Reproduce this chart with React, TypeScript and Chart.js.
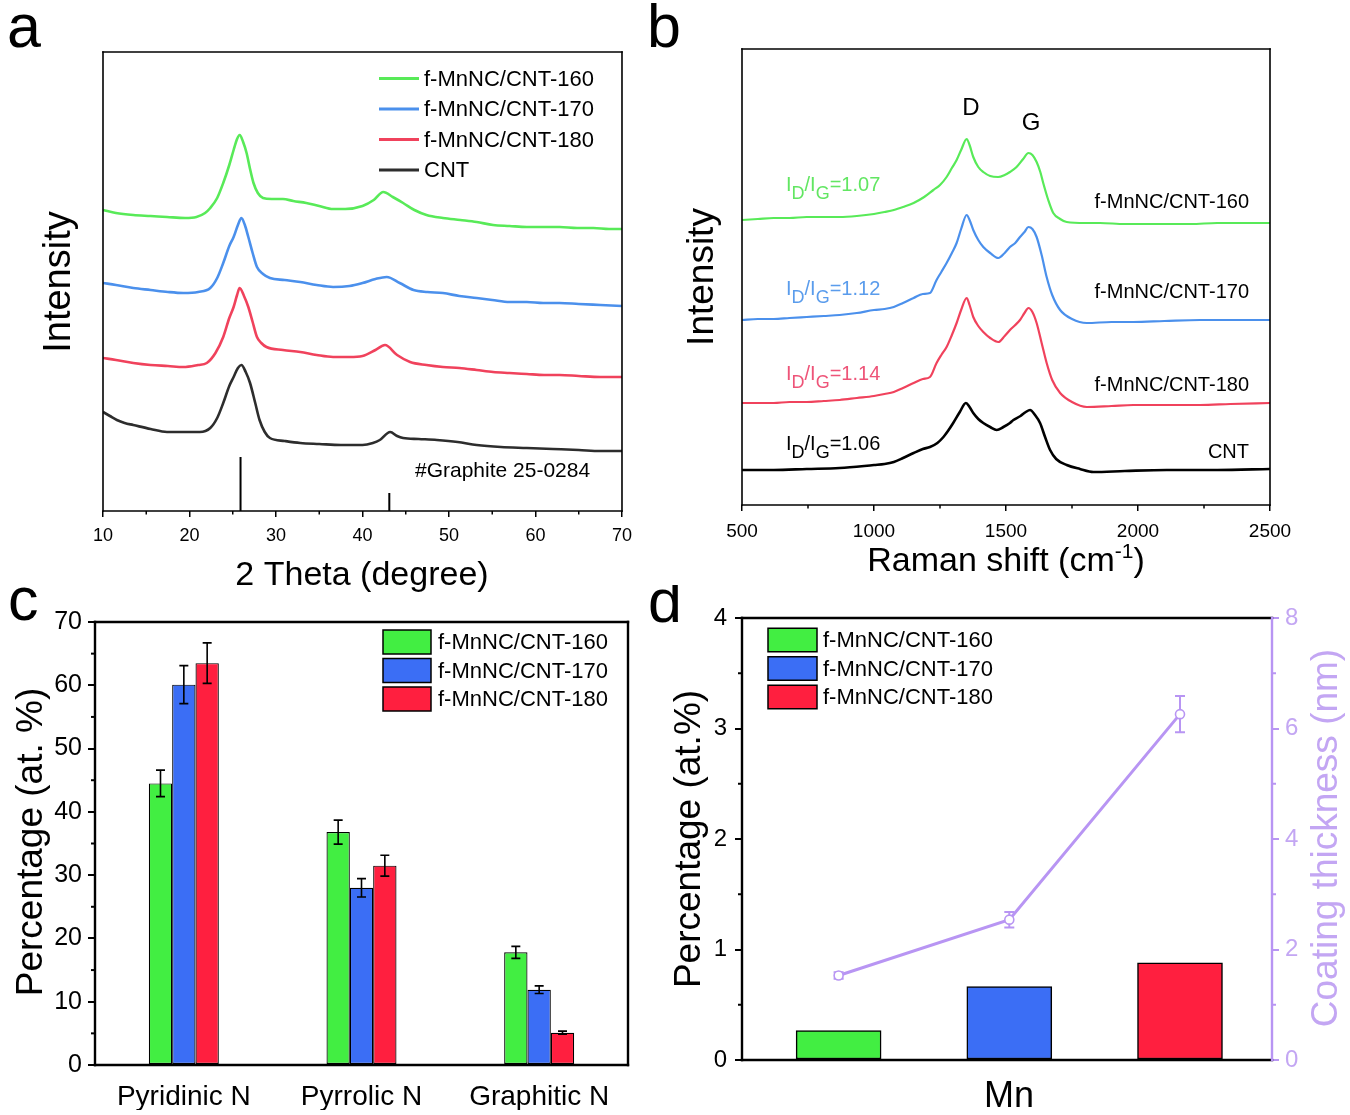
import React, { useEffect, useRef } from 'react';
import { Chart, registerables } from 'chart.js';

Chart.register(...registerables);

const FONT = '"Liberation Sans", Arial, Helvetica, sans-serif';

// ---------------- Panel a : XRD ----------------
const xrdLabels = ['f-MnNC/CNT-160', 'f-MnNC/CNT-170', 'f-MnNC/CNT-180', 'CNT'];
const xrd160Theta = [10, 11.5, 13.5, 15.5, 17.4, 19.5, 20.8, 21.8, 22.4, 23.2, 23.9, 24.6, 25.1, 25.5, 25.8, 26.2, 26.6, 27.0, 27.4, 27.9, 28.5, 29.5, 30.8, 32.0, 33.5, 35.0, 36.6, 38.0, 40.0, 41.3, 42.4, 43.5, 44.7, 46.0, 47.4, 49.3, 51.3, 53.2, 55.1, 57.0, 59.0, 61.0, 62.8, 64.8, 66.7, 68.5, 70.0];
const xrd160Int = [298, 295, 293, 292, 291, 290, 291, 295, 300, 310, 325, 343, 358, 369, 373, 366, 355, 339, 325, 315, 310, 309, 309, 307, 305, 302, 299, 299, 302, 308, 316, 311, 305, 298, 293, 290, 288, 286, 283, 282, 281, 281, 281, 280, 280, 279, 279];
const xrd170Theta = [10, 11.5, 13.5, 15.5, 17.5, 19.3, 21.0, 22.4, 23.2, 23.9, 24.6, 25.1, 25.6, 26.0, 26.4, 26.8, 27.3, 27.8, 28.5, 29.3, 31.0, 32.8, 34.7, 36.6, 38.5, 40.0, 41.5, 42.8, 44.3, 45.9, 47.5, 49.3, 51.2, 53.2, 55.0, 57.0, 59.0, 60.9, 62.8, 65.0, 67.5, 70.0];
const xrd170Int = [225, 223, 220, 218, 216, 215, 216, 220, 230, 245, 262, 271, 283, 290, 283, 271, 255, 241, 234, 230, 228, 226, 223, 221, 222, 225, 229, 231, 225, 218, 216, 215, 212, 210, 208, 206, 206, 205, 205, 204, 203, 202];
const xrd180Theta = [10, 11.5, 13.5, 15.5, 17.5, 19.3, 21.0, 22.0, 23.0, 23.9, 24.6, 25.1, 25.5, 25.8, 26.3, 26.8, 27.3, 27.8, 28.3, 28.9, 30.8, 32.8, 34.7, 36.6, 38.5, 40.0, 41.5, 42.6, 44.0, 45.5, 47.4, 49.3, 51.2, 53.2, 55.1, 57.0, 59.0, 61.0, 62.8, 65.0, 67.5, 70.0];
const xrd180Int = [150, 148, 145, 143, 142, 141, 143, 145, 155, 171, 190, 201, 213, 220, 212, 201, 186, 171, 165, 161, 158, 156, 153, 151, 151, 152, 158, 163, 153, 146, 143, 141, 140, 138, 136, 135, 134, 133, 133, 132, 131, 131];
const xrdCntTheta = [10, 10.8, 11.6, 12.5, 13.5, 15.5, 17.4, 19.3, 21.2, 22.4, 23.2, 23.9, 24.6, 25.1, 25.6, 26.0, 26.5, 27.0, 27.6, 28.1, 28.7, 29.3, 31.0, 32.8, 35.0, 37.5, 40.0, 41.2, 42.0, 43.2, 44.0, 44.7, 46.5, 48.6, 51.0, 53.2, 56.0, 59.0, 62.0, 65.0, 67.5, 70.0];
const xrdCntInt = [96, 92, 88, 85, 83, 79, 76, 76, 76, 80, 90, 105, 122, 131, 140, 143, 136, 125, 105, 88, 76, 70, 67, 65, 64, 63, 63, 65, 68, 76, 72, 70, 69, 68, 66, 63, 61, 60, 59, 58, 57, 57];
const graphiteRefTheta = [25.9, 43.1];
const graphiteRefInt = [51, 15];
const XRD_Y_MIN = -3;
const XRD_Y_MAX = 456;
const xrdTickValues = [10, 20, 30, 40, 50, 60, 70];
const xrdTickLabels = ['10', '20', '30', '40', '50', '60', '70'];
const xrdMinorTicks = [15, 25, 35, 45, 55, 65];

// ---------------- Panel b : Raman ----------------
const ramanLabels = ['f-MnNC/CNT-160', 'f-MnNC/CNT-170', 'f-MnNC/CNT-180', 'CNT'];
const ramanRatios = ['1.07', '1.12', '1.14', '1.06'];
const raman160Shift = [500, 560, 620, 680, 745, 810, 870, 935, 1000, 1040, 1075, 1110, 1150, 1190, 1225, 1250, 1275, 1295, 1313, 1330, 1351, 1362, 1376, 1395, 1414, 1440, 1470, 1495, 1515, 1540, 1565, 1585, 1600, 1616, 1630, 1641, 1660, 1679, 1705, 1730, 1800, 1856, 1950, 2050, 2109, 2200, 2300, 2400, 2500];
const raman160Int = [285, 286, 287, 287, 288, 288, 288, 289, 291, 293, 295, 298, 302, 308, 315, 320, 328, 337, 345, 355, 366, 360, 348, 338, 333, 329, 328, 330, 333, 338, 346, 352, 350, 343, 333, 322, 305, 292, 286, 283, 282, 282, 281, 281, 281, 281, 282, 282, 282];
const raman17x180Shift = [500, 560, 620, 680, 745, 810, 870, 935, 1000, 1040, 1075, 1110, 1150, 1185, 1212, 1237, 1255, 1275, 1295, 1313, 1330, 1351, 1362, 1376, 1395, 1414, 1440, 1471, 1495, 1515, 1535, 1553, 1570, 1585, 1600, 1616, 1635, 1654, 1675, 1705, 1750, 1806, 1900, 1982, 2100, 2235, 2350, 2500];
const raman170Int = [185, 186, 186, 187, 188, 189, 190, 192, 195, 196, 198, 202, 207, 211, 212, 225, 233, 242, 252, 262, 276, 290, 285, 275, 265, 258, 252, 247, 252, 258, 262, 268, 273, 278, 276, 268, 250, 228, 210, 195, 186, 182, 183, 183, 184, 185, 185, 185];
const raman180Int = [102, 102, 102, 103, 103, 104, 105, 107, 109, 111, 113, 117, 122, 126, 128, 142, 150, 158, 170, 182, 195, 207, 200, 188, 179, 173, 167, 163, 169, 175, 180, 185, 192, 197, 193, 182, 162, 142, 125, 112, 103, 98, 99, 100, 100, 100, 101, 102];
const ramanCntShift = [500, 620, 745, 870, 1000, 1040, 1075, 1110, 1150, 1185, 1212, 1240, 1263, 1280, 1300, 1325, 1348, 1362, 1376, 1395, 1414, 1440, 1465, 1490, 1515, 1528, 1555, 1575, 1591, 1610, 1629, 1648, 1667, 1690, 1730, 1780, 1831, 1950, 2109, 2300, 2500];
const ramanCntInt = [35, 35, 36, 37, 40, 41, 43, 47, 52, 56, 58, 62, 68, 74, 82, 93, 102, 98, 92, 86, 82, 78, 75, 78, 82, 85, 89, 93, 95, 90, 82, 68, 55, 46, 40, 36, 33, 34, 35, 35, 36];
const ramanTickValues = [500, 1000, 1500, 2000, 2500];
const ramanTickLabels = ['500', '1000', '1500', '2000', '2500'];
const ramanMinorTicks = [750, 1250, 1750, 2250];

// ---------------- Panel c : N species ----------------
const nTypes = ['Pyridinic N', 'Pyrrolic N', 'Graphitic N'];
const barLabels = ['f-MnNC/CNT-160', 'f-MnNC/CNT-170', 'f-MnNC/CNT-180'];
const n160 = [44.5, 36.8, 17.8];
const n160Err = [2.1, 1.9, 0.95];
const n170 = [60.1, 28.0, 11.9];
const n170Err = [3.0, 1.45, 0.6];
const n180 = [63.5, 31.5, 5.1];
const n180Err = [3.2, 1.65, 0.25];
const nTickValues = [0, 10, 20, 30, 40, 50, 60, 70];
const nTickLabels = ['0', '10', '20', '30', '40', '50', '60', '70'];
const nMinorTicks = [5, 15, 25, 35, 45, 55, 65];

// ---------------- Panel d : Mn & coating ----------------
const mnPositions = [1, 2, 3];
const mnPercent = [0.266, 0.664, 0.879];
const coatingThickness = [1.53, 2.54, 6.26];
const coatingErr = [0.06, 0.14, 0.33];
const mnTickValues = [0, 1, 2, 3, 4];
const mnTickLabels = ['0', '1', '2', '3', '4'];
const mnMinorTicks = [0.5, 1.5, 2.5, 3.5];
const coatTickValues = [0, 2, 4, 6, 8];
const coatTickLabels = ['0', '2', '4', '6', '8'];
const coatMinorTicks = [1, 3, 5, 7];

// ---------------- styles ----------------
const LINE_GREEN = '#58ea58';
const LINE_BLUE = '#4b90ec';
const LINE_RED = '#f0425c';
const LINE_GRAY = '#2d2d2d';
const BAR_GREEN = '#42ee42';
const BAR_BLUE = '#3b6ef5';
const BAR_RED = '#ff1f3f';
const LAVENDER = '#b895f3';
const LAVENDER_TXT = '#c3a6f3';

const pts = (xs: number[], ys: number[]) => xs.map((x, i) => ({ x, y: ys[i] }));

function drawRich(ctx: CanvasRenderingContext2D, segs: any[], x: number, y: number, align: string, color: string) {
  let total = 0;
  const ws = segs.map((s) => {
    ctx.font = `${s.size}px ${FONT}`;
    const w = ctx.measureText(s.text).width;
    total += w;
    return w;
  });
  let cx = align === 'center' ? x - total / 2 : align === 'right' ? x - total : x;
  segs.forEach((s, i) => {
    ctx.font = `${s.size}px ${FONT}`;
    ctx.fillStyle = s.color || color;
    ctx.textAlign = 'left';
    ctx.textBaseline = 'alphabetic';
    ctx.fillText(s.text, cx, y + (s.dy || 0));
    cx += ws[i];
  });
}

function drawErrors(chart: any, index: number, kind: string) {
  const ds = chart.data.datasets[index];
  if (!ds.errorBars) return;
  const meta = chart.getDatasetMeta(index);
  if (meta.type !== kind) return;
  const ys = chart.scales[meta.yAxisID];
  const ctx = chart.ctx;
  ctx.save();
  ctx.strokeStyle = ds.errorColor || '#000';
  ctx.lineWidth = ds.errorWidth || 1.5;
  const cap = ds.errorCap || 8;
  meta.data.forEach((el: any, j: number) => {
    const raw = ds.data[j];
    const v = typeof raw === 'number' ? raw : raw.y;
    const e = ds.errorBars[j];
    const yTop = ys.getPixelForValue(v + e);
    const yBot = ys.getPixelForValue(v - e);
    const x = el.x;
    ctx.beginPath();
    ctx.moveTo(x, yTop);
    ctx.lineTo(x, yBot);
    ctx.moveTo(x - cap / 2, yTop);
    ctx.lineTo(x + cap / 2, yTop);
    ctx.moveTo(x - cap / 2, yBot);
    ctx.lineTo(x + cap / 2, yBot);
    ctx.stroke();
  });
  ctx.restore();
}

function decor(cfg: any) {
  return {
    id: 'decor',
    beforeDatasetDraw(chart: any, args: any) {
      drawErrors(chart, args.index, 'line');
    },
    afterDatasetDraw(chart: any, args: any) {
      drawErrors(chart, args.index, 'bar');
    },
    afterDraw(chart: any) {
      const ctx: CanvasRenderingContext2D = chart.ctx;
      const ca = chart.chartArea;
      const ox = cfg.ox;
      const oy = cfg.oy;
      ctx.save();
      // minor ticks
      (cfg.minor || []).forEach((m: any) => {
        const sc = chart.scales[m.scale];
        ctx.strokeStyle = m.color || '#000';
        ctx.lineWidth = m.width || 1.5;
        m.values.forEach((v: number) => {
          const p = sc.getPixelForValue(v);
          ctx.beginPath();
          if (m.side === 'bottom') {
            ctx.moveTo(p, ca.bottom);
            ctx.lineTo(p, ca.bottom + m.len);
          } else if (m.side === 'left') {
            ctx.moveTo(ca.left, p);
            ctx.lineTo(ca.left - m.len, p);
          } else {
            ctx.moveTo(ca.right, p);
            ctx.lineTo(ca.right + m.len, p);
          }
          ctx.stroke();
        });
      });
      // frame
      if (cfg.frame) {
        const f = cfg.frame;
        ctx.lineWidth = f.width;
        ctx.lineCap = 'square';
        const seg = (x1: number, y1: number, x2: number, y2: number, c: string) => {
          ctx.strokeStyle = c;
          ctx.beginPath();
          ctx.moveTo(x1, y1);
          ctx.lineTo(x2, y2);
          ctx.stroke();
        };
        seg(ca.left, ca.top, ca.right, ca.top, f.top);
        seg(ca.left, ca.bottom, ca.right, ca.bottom, f.bottom);
        seg(ca.left, ca.top, ca.left, ca.bottom, f.left);
        seg(ca.right, ca.top, ca.right, ca.bottom, f.right);
        ctx.lineCap = 'butt';
      }
      // legend
      if (cfg.legend) {
        const L = cfg.legend;
        L.datasets.forEach((di: number, r: number) => {
          const ds = chart.data.datasets[di];
          const yc = L.rows[r] - oy;
          if (L.kind === 'line') {
            ctx.strokeStyle = ds.borderColor;
            ctx.lineWidth = 3;
            ctx.beginPath();
            ctx.moveTo(L.x1 - ox, yc);
            ctx.lineTo(L.x2 - ox, yc);
            ctx.stroke();
          } else {
            ctx.fillStyle = ds.backgroundColor;
            ctx.fillRect(L.x1 - ox, yc - L.boxH / 2, L.x2 - L.x1, L.boxH);
            ctx.strokeStyle = '#000';
            ctx.lineWidth = 1.5;
            ctx.strokeRect(L.x1 - ox, yc - L.boxH / 2, L.x2 - L.x1, L.boxH);
          }
          ctx.fillStyle = '#000';
          ctx.font = `${L.size}px ${FONT}`;
          ctx.textAlign = 'left';
          ctx.textBaseline = 'middle';
          ctx.fillText(ds.label, L.textX - ox, yc + 1);
        });
      }
      // texts
      (cfg.texts || []).forEach((t: any) => {
        ctx.save();
        ctx.font = `${t.size}px ${FONT}`;
        ctx.fillStyle = t.color || '#000';
        ctx.textAlign = t.align || 'left';
        ctx.textBaseline = t.baseline || 'alphabetic';
        ctx.translate(t.x - ox, t.y - oy);
        if (t.rotate) ctx.rotate(t.rotate);
        ctx.fillText(t.text, 0, 0);
        ctx.restore();
      });
      (cfg.rich || []).forEach((r: any) => {
        drawRich(ctx, r.segs, r.x - ox, r.y - oy, r.align || 'left', r.color || '#000');
      });
      ctx.restore();
    },
  };
}

const tickFont = (size: number) => ({ family: FONT, size });
const labelFrom = (values: number[], labels: string[]) => (v: any) => {
  const i = values.indexOf(Number(v));
  return i >= 0 ? labels[i] : '';
};
const fixedTicks = (values: number[]) => (s: any) => {
  s.ticks = values.map((value) => ({ value }));
};

// ---------------- configs ----------------
function configA(): any {
  const series = [
    { t: xrd160Theta, i: xrd160Int, c: LINE_GREEN },
    { t: xrd170Theta, i: xrd170Int, c: LINE_BLUE },
    { t: xrd180Theta, i: xrd180Int, c: LINE_RED },
    { t: xrdCntTheta, i: xrdCntInt, c: LINE_GRAY },
  ];
  const sticks = graphiteRefTheta.flatMap((t, k) => [
    { x: t, y: XRD_Y_MIN },
    { x: t, y: graphiteRefInt[k] },
    { x: t + 0.01, y: null },
  ]);
  return {
    type: 'line',
    data: {
      datasets: [
        ...series.map((s, k) => ({
          label: xrdLabels[k],
          data: pts(s.t, s.i),
          borderColor: s.c,
          borderWidth: 2.6,
          pointRadius: 0,
          cubicInterpolationMode: 'monotone',
        })),
        {
          label: '#Graphite 25-0284',
          data: sticks,
          borderColor: '#000',
          borderWidth: 2,
          pointRadius: 0,
          tension: 0,
          spanGaps: false,
        },
      ],
    },
    options: {
      responsive: false,
      animation: false,
      layout: { padding: { left: 103, top: 52, right: 18, bottom: 49 } },
      plugins: { legend: { display: false }, tooltip: { enabled: false } },
      scales: {
        x: {
          type: 'linear',
          min: 10,
          max: 70,
          afterFit: (s: any) => { s.height = 40; },
          afterBuildTicks: fixedTicks(xrdTickValues),
          ticks: { font: tickFont(18), color: '#000', padding: 8, callback: labelFrom(xrdTickValues, xrdTickLabels), maxRotation: 0 },
          grid: { display: true, drawOnChartArea: false, drawTicks: true, tickLength: 6, color: '#000', lineWidth: 1.5 },
          border: { display: false },
        },
        y: { display: false, min: XRD_Y_MIN, max: XRD_Y_MAX },
      },
    },
    plugins: [
      decor({
        ox: 0,
        oy: 0,
        frame: { width: 1.6, top: '#000', right: '#000', bottom: '#000', left: '#000' },
        minor: [{ scale: 'x', side: 'bottom', values: xrdMinorTicks, len: 3.5, width: 1.5 }],
        legend: { kind: 'line', datasets: [0, 1, 2, 3], rows: [78.5, 109, 139.5, 170], x1: 379, x2: 419, textX: 424, size: 22 },
        texts: [
          { text: 'a', x: 7, y: 47, size: 61 },
          { text: '#Graphite 25-0284', x: 415, y: 477, size: 21 },
          { text: '2 Theta (degree)', x: 362, y: 585, size: 34, align: 'center' },
          { text: 'Intensity', x: 70, y: 282, size: 38, align: 'center', rotate: -Math.PI / 2 },
        ],
      }),
    ],
  };
}

function configB(): any {
  const series = [
    { s: raman160Shift, i: raman160Int, c: LINE_GREEN, w: 2.2 },
    { s: raman17x180Shift, i: raman170Int, c: LINE_BLUE, w: 2.2 },
    { s: raman17x180Shift, i: raman180Int, c: LINE_RED, w: 2.2 },
    { s: ramanCntShift, i: ramanCntInt, c: '#000', w: 2.6 },
  ];
  const ratioColors = ['#62e662', '#5a9cec', '#ee5478', '#000'];
  const ratioRows = [191, 295, 380, 450];
  const nameRows = [202, 292, 385, 452];
  return {
    type: 'line',
    data: {
      datasets: series.map((s, k) => ({
        label: ramanLabels[k],
        data: pts(s.s, s.i),
        borderColor: s.c,
        borderWidth: s.w,
        pointRadius: 0,
        cubicInterpolationMode: 'monotone',
      })),
    },
    options: {
      responsive: false,
      animation: false,
      layout: { padding: { left: 102, top: 49, right: 80, bottom: 55 } },
      plugins: { legend: { display: false }, tooltip: { enabled: false } },
      scales: {
        x: {
          type: 'linear',
          min: 500,
          max: 2500,
          afterFit: (s: any) => { s.height = 40; },
          afterBuildTicks: fixedTicks(ramanTickValues),
          ticks: { font: tickFont(19), color: '#000', padding: 9, callback: labelFrom(ramanTickValues, ramanTickLabels), maxRotation: 0 },
          grid: { display: true, drawOnChartArea: false, drawTicks: true, tickLength: 6, color: '#000', lineWidth: 1.5 },
          border: { display: false },
        },
        y: { display: false, min: 0, max: 456 },
      },
    },
    plugins: [
      decor({
        ox: 640,
        oy: 0,
        frame: { width: 1.6, top: '#000', right: '#000', bottom: '#000', left: '#000' },
        minor: [{ scale: 'x', side: 'bottom', values: ramanMinorTicks, len: 3.5, width: 1.5 }],
        texts: [
          { text: 'b', x: 647, y: 47, size: 61 },
          { text: 'D', x: 971, y: 115, size: 24, align: 'center' },
          { text: 'G', x: 1031, y: 130, size: 24, align: 'center' },
          { text: 'Intensity', x: 713, y: 277, size: 37, align: 'center', rotate: -Math.PI / 2 },
          ...ramanLabels.map((l, k) => ({ text: l, x: 1249, y: nameRows[k], size: 20, align: 'right', baseline: 'middle' })),
        ],
        rich: [
          {
            x: 1006,
            y: 571,
            align: 'center',
            segs: [
              { text: 'Raman shift (cm', size: 34 },
              { text: '-1', size: 21, dy: -13 },
              { text: ')', size: 34 },
            ],
          },
          ...ramanRatios.map((r, k) => ({
            x: 786,
            y: ratioRows[k],
            color: ratioColors[k],
            segs: [
              { text: 'I', size: 20 },
              { text: 'D', size: 18, dy: 8 },
              { text: '/I', size: 20 },
              { text: 'G', size: 18, dy: 8 },
              { text: '=' + r, size: 20 },
            ],
          })),
        ],
      }),
    ],
  };
}

function configC(): any {
  const sets = [
    { v: n160, e: n160Err, c: BAR_GREEN },
    { v: n170, e: n170Err, c: BAR_BLUE },
    { v: n180, e: n180Err, c: BAR_RED },
  ];
  return {
    type: 'bar',
    data: {
      labels: nTypes,
      datasets: sets.map((s, k) => ({
        label: barLabels[k],
        data: s.v,
        backgroundColor: s.c,
        borderColor: '#000',
        borderWidth: 1.2,
        borderSkipped: false,
        categoryPercentage: 0.394,
        barPercentage: 1.0,
        errorBars: s.e,
        errorColor: '#000',
        errorWidth: 1.6,
        errorCap: 9,
      })),
    },
    options: {
      responsive: false,
      animation: false,
      layout: { padding: { left: 35, top: 37, right: 12, bottom: 5 } },
      plugins: { legend: { display: false }, tooltip: { enabled: false } },
      scales: {
        x: {
          type: 'category',
          afterFit: (s: any) => { s.height = 45; },
          ticks: { font: tickFont(28), color: '#000', padding: 7, maxRotation: 0 },
          grid: { display: false },
          border: { display: false },
        },
        y: {
          min: 0,
          max: 70,
          afterFit: (s: any) => { s.width = 60; },
          afterBuildTicks: fixedTicks(nTickValues),
          ticks: { font: tickFont(25), color: '#000', padding: 6, callback: labelFrom(nTickValues, nTickLabels) },
          grid: { display: true, drawOnChartArea: false, drawTicks: true, tickLength: 7, color: '#000', lineWidth: 2 },
          border: { display: false },
        },
      },
    },
    plugins: [
      decor({
        ox: 0,
        oy: 585,
        frame: { width: 2.4, top: '#000', right: '#000', bottom: '#000', left: '#000' },
        minor: [{ scale: 'y', side: 'left', values: nMinorTicks, len: 4, width: 2 }],
        legend: { kind: 'box', datasets: [0, 1, 2], rows: [642, 670.5, 699], x1: 383, x2: 431, boxH: 24, textX: 438, size: 22 },
        texts: [
          { text: 'c', x: 8, y: 620, size: 61 },
          { text: 'Percentage (at. %)', x: 42, y: 842, size: 37, align: 'center', rotate: -Math.PI / 2 },
        ],
      }),
    ],
  };
}

function configD(): any {
  const colors = [BAR_GREEN, BAR_BLUE, BAR_RED];
  return {
    type: 'bar',
    data: {
      datasets: [
        {
          type: 'line',
          label: 'Coating thickness',
          data: pts(mnPositions, coatingThickness),
          yAxisID: 'y1',
          borderColor: LAVENDER,
          borderWidth: 3,
          pointRadius: 4.5,
          pointBackgroundColor: '#fff',
          pointBorderColor: LAVENDER,
          pointBorderWidth: 1.6,
          order: 0,
          errorBars: coatingErr,
          errorColor: LAVENDER,
          errorWidth: 2,
          errorCap: 10,
        },
        ...barLabels.map((l, k) => ({
          type: 'bar',
          label: l,
          data: [{ x: mnPositions[k], y: mnPercent[k] }],
          yAxisID: 'y',
          backgroundColor: colors[k],
          borderColor: '#000',
          borderWidth: 1.5,
          borderSkipped: false,
          grouped: false,
          barThickness: 85,
          order: 1,
        })),
      ],
    },
    options: {
      responsive: false,
      animation: false,
      layout: { padding: { left: 42, top: 33, right: 18, bottom: 55 } },
      plugins: { legend: { display: false }, tooltip: { enabled: false } },
      scales: {
        x: { type: 'linear', display: false, offset: false, min: 0.434, max: 3.539 },
        y: {
          position: 'left',
          min: 0,
          max: 4,
          afterFit: (s: any) => { s.width = 60; },
          afterBuildTicks: fixedTicks(mnTickValues),
          ticks: { font: tickFont(24), color: '#000', padding: 8, callback: labelFrom(mnTickValues, mnTickLabels) },
          grid: { display: true, drawOnChartArea: false, drawTicks: true, tickLength: 7, color: '#000', lineWidth: 2 },
          border: { display: false },
        },
        y1: {
          position: 'right',
          min: 0,
          max: 8,
          afterFit: (s: any) => { s.width = 60; },
          afterBuildTicks: fixedTicks(coatTickValues),
          ticks: { font: tickFont(24), color: LAVENDER_TXT, padding: 6, callback: labelFrom(coatTickValues, coatTickLabels) },
          grid: { display: true, drawOnChartArea: false, drawTicks: true, tickLength: 7, color: LAVENDER, lineWidth: 2 },
          border: { display: false },
        },
      },
    },
    plugins: [
      decor({
        ox: 640,
        oy: 585,
        frame: { width: 2.4, top: '#000', right: LAVENDER, bottom: '#000', left: '#000' },
        minor: [
          { scale: 'y', side: 'left', values: mnMinorTicks, len: 4, width: 2 },
          { scale: 'y1', side: 'right', values: coatMinorTicks, len: 4, width: 2, color: LAVENDER },
        ],
        legend: { kind: 'box', datasets: [1, 2, 3], rows: [640, 668.5, 697], x1: 768, x2: 817, boxH: 23.5, textX: 823, size: 22 },
        texts: [
          { text: 'd', x: 648, y: 622, size: 61 },
          { text: 'Percentage (at.%)', x: 700, y: 839, size: 37, align: 'center', rotate: -Math.PI / 2 },
          { text: 'Coating thickness (nm)', x: 1337, y: 838, size: 37, align: 'center', color: LAVENDER_TXT, rotate: -Math.PI / 2 },
          { text: 'Mn', x: 1009, y: 1107, size: 36, align: 'center' },
        ],
      }),
    ],
  };
}

function Panel({ left, top, width, height, make }: { left: number; top: number; width: number; height: number; make: () => any }) {
  const ref = useRef<HTMLCanvasElement | null>(null);
  useEffect(() => {
    if (!ref.current) return;
    const chart = new Chart(ref.current, make());
    return () => chart.destroy();
  }, []);
  return (
    <canvas
      ref={ref}
      width={width}
      height={height}
      style={{ position: 'absolute', left, top, width, height }}
    />
  );
}

export default function App() {
  return (
    <div style={{ position: 'absolute', left: 0, top: 0, width: 1350, height: 1115, background: '#fff', overflow: 'hidden' }}>
      <Panel left={0} top={0} width={640} height={600} make={configA} />
      <Panel left={640} top={0} width={710} height={600} make={configB} />
      <Panel left={0} top={585} width={640} height={530} make={configC} />
      <Panel left={640} top={585} width={710} height={530} make={configD} />
    </div>
  );
}
